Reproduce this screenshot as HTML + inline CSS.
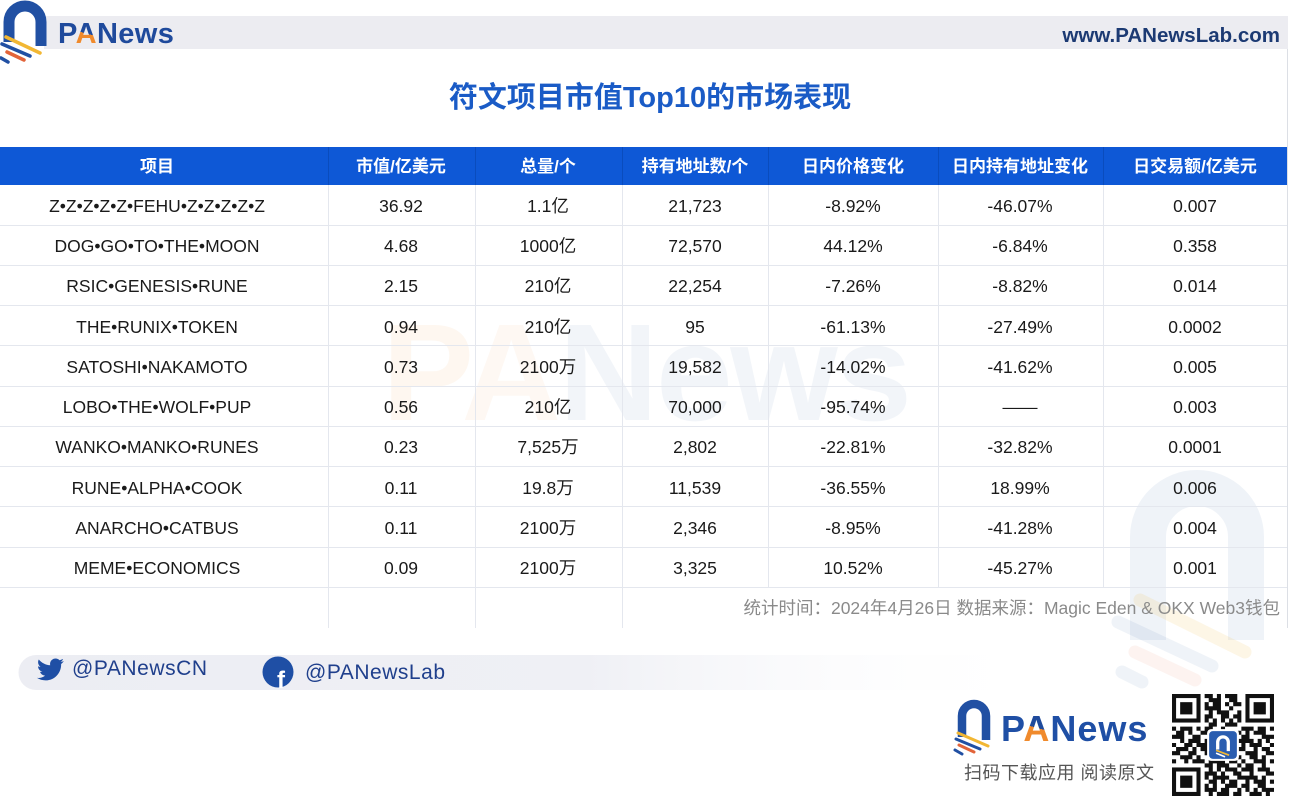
<!DOCTYPE html>
<html><head><meta charset="utf-8"><style>
html,body{margin:0;padding:0;background:#fff;}
svg{display:block;font-family:"Liberation Sans","Noto Sans CJK SC",sans-serif;}
</style></head><body>
<svg width="1300" height="807" viewBox="0 0 1300 807" xmlns="http://www.w3.org/2000/svg">
<defs>
<linearGradient id="fb" x1="0" x2="1" y1="0" y2="0"><stop offset="0" stop-color="#ecedf3"/><stop offset="0.55" stop-color="#eff0f5"/><stop offset="1" stop-color="#ffffff" stop-opacity="0"/></linearGradient>
<linearGradient id="ag" x1="0" x2="1" y1="1" y2="0"><stop offset="0" stop-color="#f08a2c"/><stop offset="0.38" stop-color="#f08a2c"/><stop offset="0.38" stop-color="#1f4a9c"/></linearGradient>
</defs>
<rect width="1300" height="807" fill="#fff"/>
<!-- top bar -->
<rect x="44" y="16" width="1244" height="33" fill="#ececf1"/>
<line x1="1287.5" y1="49" x2="1287.5" y2="628" stroke="#dcdfe5" stroke-width="1"/>
<!-- top-left logo -->
<path d="M9 42 V22 A16 16 0 0 1 41 22 V46" fill="none" stroke="#2150a3" stroke-width="11"/>
<g stroke-linecap="round" fill="none">
<line x1="6" y1="37" x2="40" y2="53" stroke="#f2b733" stroke-width="3.5"/>
<line x1="2" y1="44" x2="30" y2="56" stroke="#2150a3" stroke-width="3.5"/>
<line x1="7" y1="52" x2="24" y2="60" stroke="#e2643a" stroke-width="3.5"/>
<line x1="1" y1="58" x2="8" y2="62" stroke="#2150a3" stroke-width="3.5"/>
</g>
<text x="58" y="43" font-size="29" font-weight="bold" fill="#1f4a9c" letter-spacing="0.4">P<tspan fill="url(#ag)">A</tspan>News</text>
<text x="1280" y="42" font-size="20.5" font-weight="bold" fill="#1c3a73" text-anchor="end">www.PANewsLab.com</text>
<!-- title -->
<text x="650" y="107" font-size="29" font-weight="bold" fill="#1a5bc6" text-anchor="middle">符文项目市值Top10的市场表现</text>

<!-- watermark -->
<g opacity="1">
<text x="382" y="420" font-size="138" font-weight="bold" fill="#1e50a0" fill-opacity="0.06" textLength="530" lengthAdjust="spacing"><tspan fill="#f08a2c" fill-opacity="0.07">P</tspan><tspan fill="#f08a2c" fill-opacity="0.06">A</tspan>News</text>
<path d="M1148 640 V537 A49 49 0 0 1 1246 537 V640" fill="none" stroke="#1e50a0" stroke-opacity="0.07" stroke-width="36"/>
<g stroke-linecap="round">
<line x1="1140" y1="600" x2="1245" y2="652" stroke="#f2b733" stroke-opacity="0.12" stroke-width="13"/>
<line x1="1118" y1="622" x2="1212" y2="666" stroke="#1e50a0" stroke-opacity="0.07" stroke-width="13"/>
<line x1="1135" y1="652" x2="1195" y2="680" stroke="#e2643a" stroke-opacity="0.08" stroke-width="13"/>
<line x1="1122" y1="672" x2="1142" y2="682" stroke="#1e50a0" stroke-opacity="0.07" stroke-width="13"/>
</g>
</g>

<!-- table header -->
<rect x="0" y="147" width="1287" height="38" fill="#0e58d6"/>
<g stroke="#0a4cbd" stroke-width="1">
<line x1="328.5" y1="147" x2="328.5" y2="185"/>
<line x1="475.5" y1="147" x2="475.5" y2="185"/>
<line x1="622.5" y1="147" x2="622.5" y2="185"/>
<line x1="768.5" y1="147" x2="768.5" y2="185"/>
<line x1="938.5" y1="147" x2="938.5" y2="185"/>
<line x1="1103.5" y1="147" x2="1103.5" y2="185"/>
</g>
<g font-size="17" font-weight="bold" fill="#ffffff" text-anchor="middle">
<text x="157" y="172">项目</text>
<text x="401" y="172">市值/亿美元</text>
<text x="548" y="172">总量/个</text>
<text x="695" y="172">持有地址数/个</text>
<text x="853" y="172">日内价格变化</text>
<text x="1020" y="172">日内持有地址变化</text>
<text x="1195" y="172">日交易额/亿美元</text>
</g>

<!-- grid -->
<g stroke="#e4e7ee" stroke-width="1">
<line x1="0" y1="225.5" x2="1287" y2="225.5"/>
<line x1="0" y1="265.5" x2="1287" y2="265.5"/>
<line x1="0" y1="305.5" x2="1287" y2="305.5"/>
<line x1="0" y1="345.5" x2="1287" y2="345.5"/>
<line x1="0" y1="386.5" x2="1287" y2="386.5"/>
<line x1="0" y1="426.5" x2="1287" y2="426.5"/>
<line x1="0" y1="466.5" x2="1287" y2="466.5"/>
<line x1="0" y1="506.5" x2="1287" y2="506.5"/>
<line x1="0" y1="547.5" x2="1287" y2="547.5"/>
<line x1="0" y1="587.5" x2="1287" y2="587.5"/>
<line x1="328.5" y1="185" x2="328.5" y2="628"/>
<line x1="475.5" y1="185" x2="475.5" y2="628"/>
<line x1="622.5" y1="185" x2="622.5" y2="628"/>
<line x1="768.5" y1="185" x2="768.5" y2="588"/>
<line x1="938.5" y1="185" x2="938.5" y2="588"/>
<line x1="1103.5" y1="185" x2="1103.5" y2="588"/>
</g>

<!-- body -->
<g font-size="17.5" fill="#1a1a1a" text-anchor="middle">
<g>
<text x="157" y="212">Z•Z•Z•Z•Z•FEHU•Z•Z•Z•Z•Z</text>
<text x="157" y="252">DOG•GO•TO•THE•MOON</text>
<text x="157" y="292">RSIC•GENESIS•RUNE</text>
<text x="157" y="333">THE•RUNIX•TOKEN</text>
<text x="157" y="373">SATOSHI•NAKAMOTO</text>
<text x="157" y="413">LOBO•THE•WOLF•PUP</text>
<text x="157" y="453">WANKO•MANKO•RUNES</text>
<text x="157" y="494">RUNE•ALPHA•COOK</text>
<text x="157" y="534">ANARCHO•CATBUS</text>
<text x="157" y="574">MEME•ECONOMICS</text>
</g>
<g>
<text x="401" y="212">36.92</text>
<text x="401" y="252">4.68</text>
<text x="401" y="292">2.15</text>
<text x="401" y="333">0.94</text>
<text x="401" y="373">0.73</text>
<text x="401" y="413">0.56</text>
<text x="401" y="453">0.23</text>
<text x="401" y="494">0.11</text>
<text x="401" y="534">0.11</text>
<text x="401" y="574">0.09</text>
</g>
<g>
<text x="548" y="212">1.1亿</text>
<text x="548" y="252">1000亿</text>
<text x="548" y="292">210亿</text>
<text x="548" y="333">210亿</text>
<text x="548" y="373">2100万</text>
<text x="548" y="413">210亿</text>
<text x="548" y="453">7,525万</text>
<text x="548" y="494">19.8万</text>
<text x="548" y="534">2100万</text>
<text x="548" y="574">2100万</text>
</g>
<g>
<text x="695" y="212">21,723</text>
<text x="695" y="252">72,570</text>
<text x="695" y="292">22,254</text>
<text x="695" y="333">95</text>
<text x="695" y="373">19,582</text>
<text x="695" y="413">70,000</text>
<text x="695" y="453">2,802</text>
<text x="695" y="494">11,539</text>
<text x="695" y="534">2,346</text>
<text x="695" y="574">3,325</text>
</g>
<g>
<text x="853" y="212">-8.92%</text>
<text x="853" y="252">44.12%</text>
<text x="853" y="292">-7.26%</text>
<text x="853" y="333">-61.13%</text>
<text x="853" y="373">-14.02%</text>
<text x="853" y="413">-95.74%</text>
<text x="853" y="453">-22.81%</text>
<text x="853" y="494">-36.55%</text>
<text x="853" y="534">-8.95%</text>
<text x="853" y="574">10.52%</text>
</g>
<g>
<text x="1020" y="212">-46.07%</text>
<text x="1020" y="252">-6.84%</text>
<text x="1020" y="292">-8.82%</text>
<text x="1020" y="333">-27.49%</text>
<text x="1020" y="373">-41.62%</text>
<text x="1020" y="413">——</text>
<text x="1020" y="453">-32.82%</text>
<text x="1020" y="494">18.99%</text>
<text x="1020" y="534">-41.28%</text>
<text x="1020" y="574">-45.27%</text>
</g>
<g>
<text x="1195" y="212">0.007</text>
<text x="1195" y="252">0.358</text>
<text x="1195" y="292">0.014</text>
<text x="1195" y="333">0.0002</text>
<text x="1195" y="373">0.005</text>
<text x="1195" y="413">0.003</text>
<text x="1195" y="453">0.0001</text>
<text x="1195" y="494">0.006</text>
<text x="1195" y="534">0.004</text>
<text x="1195" y="574">0.001</text>
</g>
</g>
<text x="1280" y="614" font-size="17.5" fill="#8a8a8a" text-anchor="end">统计时间：2024年4月26日 数据来源：Magic Eden &amp; OKX Web3钱包</text>

<!-- footer social bar -->
<path d="M36 655 H1050 V690 H36 A17.5 17.5 0 0 1 36 655 Z" fill="url(#fb)"/>
<g transform="translate(37,656) scale(1.12)">
<path fill="#1f4fa5" d="M23.954 4.569c-.885.389-1.83.654-2.825.775 1.014-.611 1.794-1.574 2.163-2.723-.951.555-2.005.959-3.127 1.184-.896-.959-2.173-1.559-3.591-1.559-2.717 0-4.92 2.203-4.920 4.917 0 .39.045.765.127 1.124C7.691 8.094 4.066 6.130 1.640 3.161c-.427.722-.666 1.561-.666 2.475 0 1.710.870 3.213 2.188 4.096-.807-.026-1.566-.248-2.228-.616v.061c0 2.385 1.693 4.374 3.946 4.827-.413.111-.849.171-1.296.171-.314 0-.615-.030-.916-.086.631 1.953 2.445 3.377 4.604 3.417-1.680 1.319-3.809 2.105-6.102 2.105-.390 0-.779-.023-1.170-.067 2.189 1.394 4.768 2.209 7.557 2.209 9.054 0 13.999-7.496 13.999-13.986 0-.209 0-.420-.015-.630.961-.689 1.800-1.560 2.460-2.548z"/>
</g>
<text x="72" y="675" font-size="21" fill="#1f3f8c" textLength="135" lengthAdjust="spacing">@PANewsCN</text>
<circle cx="278" cy="672" r="15.5" fill="#1f4fa5"/>
<text x="281" y="688" font-size="24" font-weight="bold" fill="#ffffff" text-anchor="middle">f</text>
<text x="305" y="679" font-size="21" fill="#1f3f8c" textLength="140" lengthAdjust="spacing">@PANewsLab</text>

<!-- bottom-right logo -->
<path d="M962 737 V716 A12 12 0 0 1 986 716 V740" fill="none" stroke="#2150a3" stroke-width="8.5"/>
<g stroke-linecap="round" fill="none">
<line x1="958" y1="733" x2="988" y2="746" stroke="#f2b733" stroke-width="3"/>
<line x1="956" y1="739" x2="980" y2="749" stroke="#2150a3" stroke-width="3"/>
<line x1="959" y1="745" x2="974" y2="752" stroke="#e2643a" stroke-width="3"/>
<line x1="955" y1="750" x2="962" y2="754" stroke="#2150a3" stroke-width="3"/>
</g>
<text x="1001" y="741" font-size="36" font-weight="bold" fill="#1f4fa5" letter-spacing="1">P<tspan fill="url(#ag)">A</tspan>News</text>
<text x="964" y="779" font-size="18" fill="#555555" textLength="190" lengthAdjust="spacing">扫码下载应用 阅读原文</text>

<!-- QR -->
<g transform="translate(1172,694) scale(4.08)">
<rect x="0" y="0" width="25" height="25" fill="#fff"/>
<g fill="#111">
<rect x="0" y="0" width="7" height="7"/><rect x="18" y="0" width="7" height="7"/><rect x="0" y="18" width="7" height="7"/>
</g>
<g fill="#fff">
<rect x="1" y="1" width="5" height="5"/><rect x="19" y="1" width="5" height="5"/><rect x="1" y="19" width="5" height="5"/>
</g>
<g fill="#111">
<rect x="2" y="2" width="3" height="3"/><rect x="20" y="2" width="3" height="3"/><rect x="2" y="20" width="3" height="3"/>
</g>
<path stroke="#111" stroke-width="1" fill="none" d="M8 .5h2M11 .5h1M13 .5h3M9 1.5h3M14 1.5h2M8 2.5h1M10 2.5h2M13 2.5h1M15 2.5h2M8 3.5h4M14 3.5h1M9 4.5h1M11 4.5h3M16 4.5h1M8 5.5h2M12 5.5h2M15 5.5h2M8 6.5h1M10 6.5h1M12 6.5h1M14 6.5h1M16 6.5h1M9 7.5h2M13 7.5h3M0 8.5h1M2 8.5h3M6 8.5h1M8 8.5h2M12 8.5h1M17 8.5h3M21 8.5h2M24 8.5h1M1 9.5h2M4 9.5h1M7 9.5h3M16 9.5h1M18 9.5h1M20 9.5h3M0 10.5h3M5 10.5h2M9 10.5h1M17 10.5h2M22 10.5h3M2 11.5h1M4 11.5h3M8 11.5h1M16 11.5h4M21 11.5h1M23 11.5h1M0 12.5h1M3 12.5h2M6 12.5h3M17 12.5h1M19 12.5h3M24 12.5h1M1 13.5h3M5 13.5h1M7 13.5h2M16 13.5h2M20 13.5h1M22 13.5h2M0 14.5h2M4 14.5h2M8 14.5h1M18 14.5h3M23 14.5h2M2 15.5h3M6 15.5h1M9 15.5h2M16 15.5h1M19 15.5h2M22 15.5h1M0 16.5h1M3 16.5h1M5 16.5h3M9 16.5h4M14 16.5h2M17 16.5h1M20 16.5h3M24 16.5h1M8 17.5h2M11 17.5h3M16 17.5h1M18 17.5h2M22 17.5h1M9 18.5h1M11 18.5h1M13 18.5h3M17 18.5h3M21 18.5h3M8 19.5h3M12 19.5h1M15 19.5h2M19 19.5h1M23 19.5h2M8 20.5h1M10 20.5h4M16 20.5h5M22 20.5h1M9 21.5h2M12 21.5h1M14 21.5h2M18 21.5h1M20 21.5h3M24 21.5h1M8 22.5h1M10 22.5h1M13 22.5h3M17 22.5h2M21 22.5h2M8 23.5h3M12 23.5h2M16 23.5h1M18 23.5h1M20 23.5h1M22 23.5h3M9 24.5h1M11 24.5h3M15 24.5h2M19 24.5h3M23 24.5h1"/>
<rect x="8.6" y="8.6" width="7.8" height="7.8" rx="1" fill="#fff"/>
<rect x="9.1" y="9.1" width="6.8" height="6.8" rx="0.9" fill="#2a5db0"/>
<path d="M11.2 13.6 V11.8 A1.3 1.3 0 0 1 13.8 11.8 V14" fill="none" stroke="#fff" stroke-width="0.8"/>
<line x1="10.8" y1="13.8" x2="14" y2="15" stroke="#f2b733" stroke-width="0.4"/>
<line x1="10.8" y1="14.5" x2="13" y2="15.4" stroke="#fff" stroke-width="0.4"/>
</g>
</svg>
</body></html>
